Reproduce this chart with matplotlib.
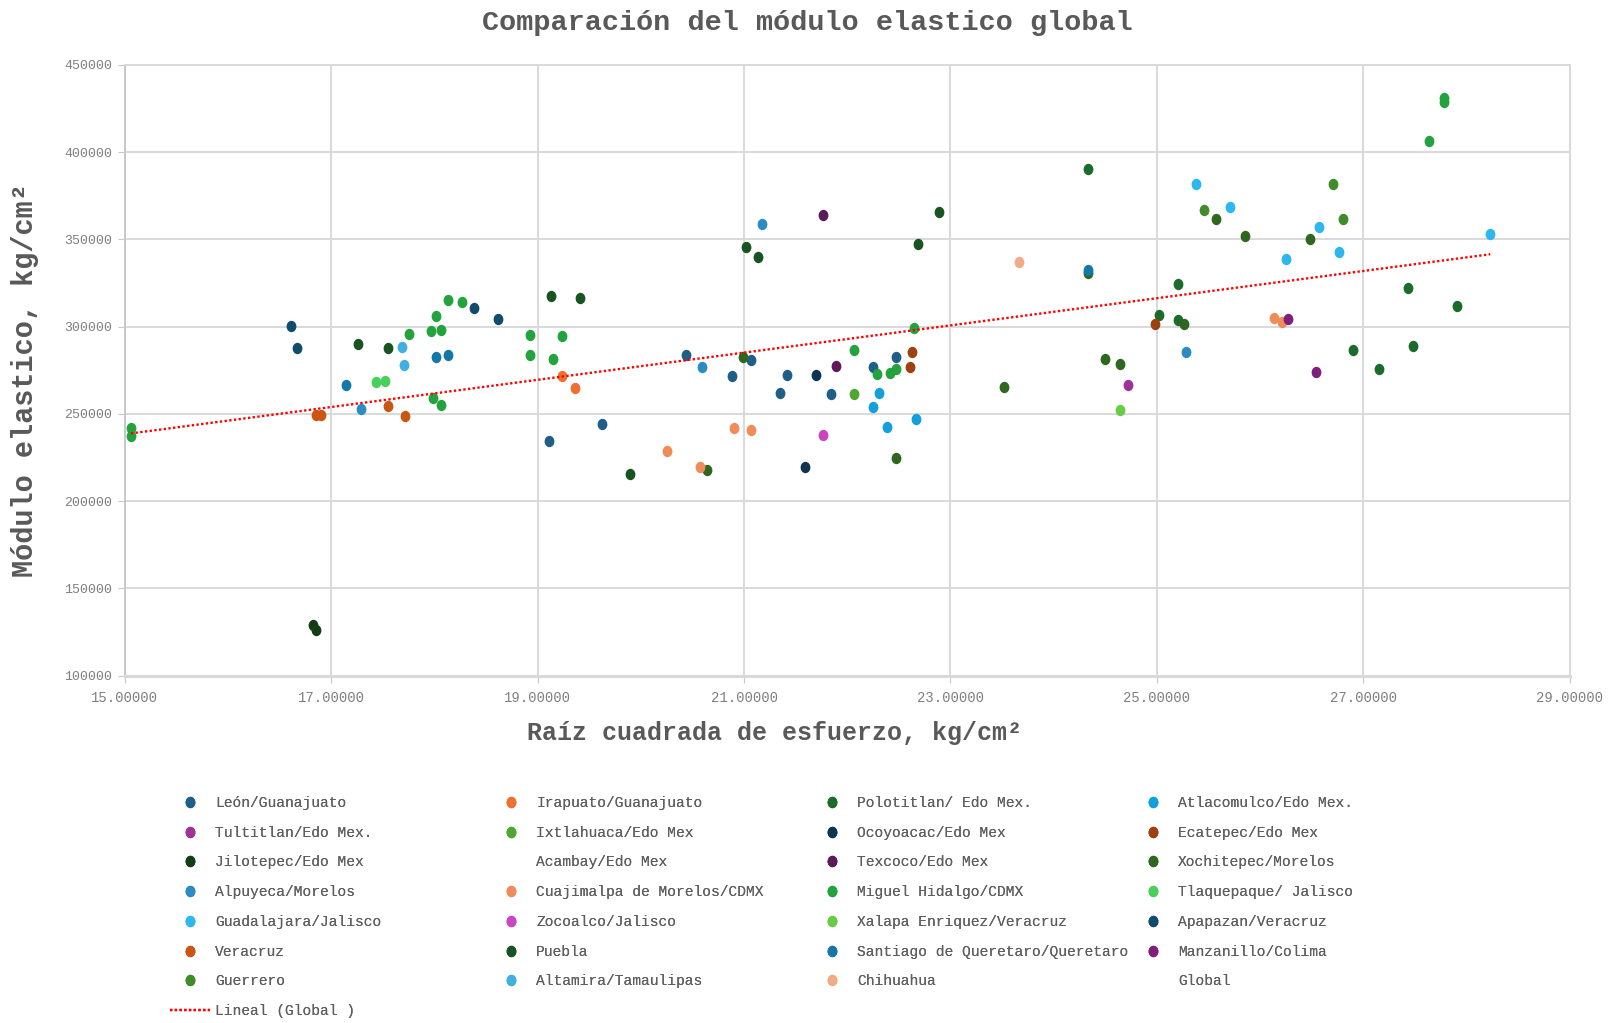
import numpy as np
import matplotlib.pyplot as plt
from matplotlib.path import Path
from matplotlib.transforms import Affine2D

plt.rcParams['font.family'] = ['Liberation Mono', 'DejaVu Sans Mono']

# datos por localidad (x = raiz cuadrada de esfuerzo, y = modulo elastico)
leon_x = [19.11, 19.62, 20.44, 20.88, 21.07, 21.42, 21.35, 21.84, 22.25, 22.47]
leon_y = [234500, 244400, 283900, 271600, 281100, 272100, 261800, 261200, 276700, 282800]
irapuato_x = [19.24, 19.36]
irapuato_y = [271900, 264900]
polotitlan_x = [24.33, 25.20, 25.02, 25.20, 26.90, 27.15, 27.48, 27.43, 27.91]
polotitlan_y = [390200, 324300, 306500, 303800, 286800, 275600, 288800, 322200, 311900]
atlacomulco_x = [22.31, 22.25, 22.39, 22.67]
atlacomulco_y = [261800, 254200, 242300, 246900]
tultitlan_x = [24.72]
tultitlan_y = [266800]
ixtlahuaca_x = [22.07]
ixtlahuaca_y = [261200]
ocoyoacac_x = [21.59, 21.70]
ocoyoacac_y = [219400, 272100]
ecatepec_x = [22.63, 22.61, 24.98]
ecatepec_y = [285700, 277100, 301700]
jilotepec_x = [16.82, 16.85]
jilotepec_y = [129100, 126200]
acambay_x = []
acambay_y = []
texcoco_x = [21.77, 21.89]
texcoco_y = [364200, 277700]
xochitepec_x = [20.99, 20.64, 22.47, 23.52, 24.33, 24.50, 24.64, 25.57, 25.85, 26.48, 25.26]
xochitepec_y = [282600, 217700, 224900, 265300, 331000, 281700, 278600, 361500, 351800, 350200, 301400]
alpuyeca_x = [21.17, 20.59, 25.28, 17.29]
alpuyeca_y = [358700, 277100, 285300, 253000]
cuajimalpa_x = [20.25, 20.57, 20.90, 21.07, 26.13, 26.21]
cuajimalpa_y = [228600, 219400, 241800, 240800, 304800, 302500]
miguel_x = [15.06, 15.06, 17.75, 17.97, 18.06, 18.02, 18.13, 18.27, 17.99, 18.06, 18.93, 18.93,
            19.24, 19.15, 22.07, 22.29, 22.41, 22.47, 22.65, 27.64, 27.78, 27.78]
miguel_y = [242100, 237500, 296000, 297500, 297900, 306300, 315500, 314300, 259300, 255100, 295200, 283600,
            294900, 281700, 286400, 273100, 273500, 275600, 299400, 406600, 430800, 428900]
tlaquepaque_x = [17.43, 17.52]
tlaquepaque_y = [268300, 268900]
guadalajara_x = [25.38, 25.71, 26.57, 26.25, 26.76, 28.23]
guadalajara_y = [382000, 368800, 356900, 339000, 343000, 352900]
zocoalco_x = [21.77]
zocoalco_y = [237800]
xalapa_x = [24.64]
xalapa_y = [252400]
apapazan_x = [16.61, 16.67, 18.38, 18.62]
apapazan_y = [300600, 287600, 310900, 304600]
veracruz_x = [16.85, 16.90, 17.55, 17.72]
veracruz_y = [249400, 249400, 254700, 249000]
puebla_x = [21.02, 21.14, 22.69, 22.89, 19.13, 19.41, 17.26, 17.55, 19.90]
puebla_y = [345700, 340000, 347200, 365500, 317600, 316400, 289900, 287800, 215800]
santiago_x = [17.145, 18.02, 18.13, 24.33]
santiago_y = [266400, 282600, 283600, 332500]
manzanillo_x = [26.27, 26.54]
manzanillo_y = [304200, 274000]
guerrero_x = [25.46, 26.71, 26.80]
guerrero_y = [366700, 382000, 361500]
altamira_x = [17.69, 17.71]
altamira_y = [288400, 278000]
chihuahua_x = [23.66]
chihuahua_y = [337100]

series = [
    ('León/Guanajuato', leon_x, leon_y, '#1f5f87'),
    ('Irapuato/Guanajuato', irapuato_x, irapuato_y, '#ed7032'),
    ('Polotitlan/ Edo Mex.', polotitlan_x, polotitlan_y, '#1b6b2b'),
    ('Atlacomulco/Edo Mex.', atlacomulco_x, atlacomulco_y, '#139fdb'),
    ('Tultitlan/Edo Mex.', tultitlan_x, tultitlan_y, '#9c3399'),
    ('Ixtlahuaca/Edo Mex', ixtlahuaca_x, ixtlahuaca_y, '#4ea72e'),
    ('Ocoyoacac/Edo Mex', ocoyoacac_x, ocoyoacac_y, '#0e3451'),
    ('Ecatepec/Edo Mex', ecatepec_x, ecatepec_y, '#9c410f'),
    ('Jilotepec/Edo Mex', jilotepec_x, jilotepec_y, '#133d15'),
    ('Acambay/Edo Mex', acambay_x, acambay_y, None),
    ('Texcoco/Edo Mex', texcoco_x, texcoco_y, '#5c1a58'),
    ('Xochitepec/Morelos', xochitepec_x, xochitepec_y, '#2f6620'),
    ('Alpuyeca/Morelos', alpuyeca_x, alpuyeca_y, '#2b8cc4'),
    ('Cuajimalpa de Morelos/CDMX', cuajimalpa_x, cuajimalpa_y, '#ef8c5a'),
    ('Miguel Hidalgo/CDMX', miguel_x, miguel_y, '#23a33d'),
    ('Tlaquepaque/ Jalisco', tlaquepaque_x, tlaquepaque_y, '#47d15a'),
    ('Guadalajara/Jalisco', guadalajara_x, guadalajara_y, '#2cb7ef'),
    ('Zocoalco/Jalisco', zocoalco_x, zocoalco_y, '#cc44bf'),
    ('Xalapa Enriquez/Veracruz', xalapa_x, xalapa_y, '#6acc45'),
    ('Apapazan/Veracruz', apapazan_x, apapazan_y, '#124c6c'),
    ('Veracruz', veracruz_x, veracruz_y, '#ca5614'),
    ('Puebla', puebla_x, puebla_y, '#175422'),
    ('Santiago de Queretaro/Queretaro', santiago_x, santiago_y, '#1477a8'),
    ('Manzanillo/Colima', manzanillo_x, manzanillo_y, '#7e2079'),
    ('Guerrero', guerrero_x, guerrero_y, '#3f8c28'),
    ('Altamira/Tamaulipas', altamira_x, altamira_y, '#43aee0'),
    ('Chihuahua', chihuahua_x, chihuahua_y, '#f3ab85'),
]

# todos los puntos juntos = serie Global
global_x = np.concatenate([np.array(s[1], dtype=float) for s in series])
global_y = np.concatenate([np.array(s[2], dtype=float) for s in series])

fig = plt.figure(figsize=(16.15, 10.23), dpi=100)
ax = fig.add_axes([0.0772, 0.3395, 0.8948, 0.5971])

# punto ligeramente ovalado como en excel
dot = Path.unit_circle().transformed(Affine2D().scale(0.86, 1.0))

handles = []
for name, xs, ys, col in series:
    if col is None:
        h, = ax.plot(xs, ys, linestyle='none', marker='none', label=name)
    else:
        h, = ax.plot(xs, ys, linestyle='none', marker=dot, ms=8.2, color=col,
                     mec='none', label=name)
    handles.append(h)

h, = ax.plot(global_x, global_y, linestyle='none', marker='none', label='Global')
handles.append(h)

# linea de tendencia lineal
coef = np.polyfit(global_x, global_y, 1)
tx = np.array([global_x.min(), global_x.max()])
h, = ax.plot(tx, np.polyval(coef, tx), color='#ff0000', ls=(0, (1, 1)), lw=1.7,
             label='Lineal (Global )')
handles.append(h)

ax.set_xlim(15, 29)
ax.set_ylim(100000, 450000)
ax.set_xticks(np.arange(15, 29.1, 2))
ax.set_yticks(np.arange(100000, 450001, 50000))
ax.set_xticklabels(['%.5f' % v for v in np.arange(15, 29.1, 2)])
ax.set_yticklabels(['%d' % v for v in np.arange(100000, 450001, 50000)])

ax.grid(True, color='#d9d9d9', lw=1.4)
ax.set_axisbelow(True)
for sp in ax.spines.values():
    sp.set_color('#d9d9d9')
    sp.set_linewidth(1.4)
ax.spines['left'].set_color('#c8c8c8')
ax.spines['bottom'].set_linewidth(2.2)
ax.tick_params(axis='y', length=5, color='#c8c8c8', labelsize=9.5, labelcolor='#7f7f7f', pad=4)
ax.tick_params(axis='x', length=5, color='#c8c8c8', labelsize=10, labelcolor='#7f7f7f', pad=6)

fig.text(0.5, 0.978, 'Comparación del módulo elastico global', ha='center', va='center',
         fontsize=20.5, fontweight='bold', color='#595959')
ax.set_xlabel('Raíz cuadrada de esfuerzo, kg/cm²', fontsize=18, fontweight='bold',
              color='#595959', va='center')
ax.xaxis.set_label_coords(0.450, -0.0946)
ax.set_ylabel('Módulo elastico, kg/cm²', fontsize=20.6, fontweight='bold',
              color='#595959', va='center')
ax.yaxis.set_label_coords(-0.0691, 0.484)

# leyenda en 4 columnas de ancho fijo, orden por filas
labels = [hh.get_label() for hh in handles]
col_x = [0.1053, 0.304, 0.5028, 0.7015]
for k in range(4):
    lg = fig.legend(handles[k::4], labels[k::4], loc='upper left',
                    bbox_to_anchor=(col_x[k], 0.222), frameon=False, fontsize=10.5,
                    handlelength=2.75, handletextpad=0.35, labelspacing=1.08,
                    borderpad=0, borderaxespad=0, labelcolor='#5f5f5f')
    fig.add_artist(lg)

fig.savefig('out.png', dpi=100)
